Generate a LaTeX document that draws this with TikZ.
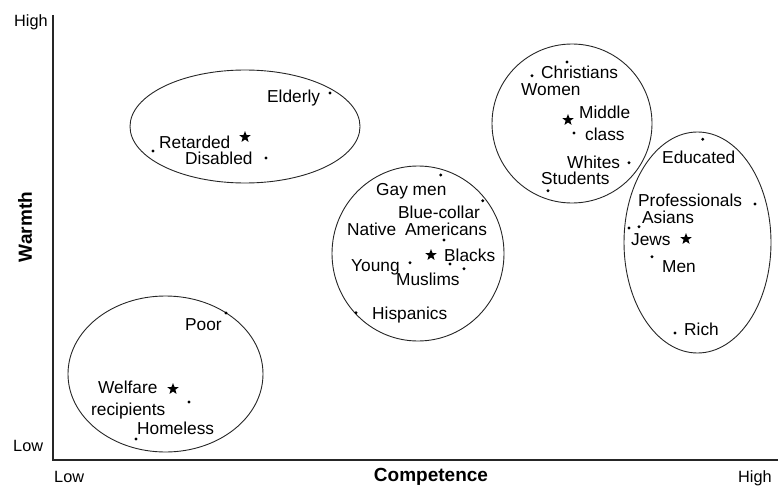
\documentclass[tikz,border=0pt]{standalone}
\usepackage{fontspec}
\setmainfont{Liberation Sans}
\usetikzlibrary{shapes.geometric}
\begin{document}
\begin{tikzpicture}[x=1pt,y=-1pt,
  lbl/.style={anchor=west,inner sep=0pt,text height=12.3pt,text depth=0pt,font=\fontsize{17.3}{19}\selectfont},
  axlbl/.style={inner sep=0pt,text height=11.8pt,text depth=0pt,font=\fontsize{16.3}{18}\selectfont},
  axtitle/.style={inner sep=0pt,font=\fontsize{19}{21}\selectfont\bfseries},
  dot/.style={circle,fill=black,inner sep=0pt,minimum size=3.2pt},
  starmark/.style={star,star points=5,star point ratio=2.4,fill=black,inner sep=0pt,minimum size=12pt},
  cluster/.style={draw=black!85,line width=0.9pt},
  axis/.style={draw=black!85,line width=1.6pt}]
\useasboundingbox (0,0) rectangle (781,487);
% axes
\coordinate (ytop) at (53,15);
\coordinate (orig) at (53,460);
\coordinate (xend) at (778,460);
\draw[axis] (ytop) -- (orig) -- (xend);
\node[axlbl,anchor=west] (yhigh) at (14,21) {High};
\node[axlbl,anchor=west] (ylow) at (13,446) {Low};
\node[axlbl,anchor=west] (xlow) at (54,477) {Low};
\node[axlbl,anchor=west] (xhigh) at (738,477) {High};
\node[axtitle] (xtitle) at (431,477) {Competence};
\node[axtitle,rotate=90] (ytitle) at (25,227) {Warmth};
% clusters
\draw[cluster] (245,126.5) ellipse [x radius=115, y radius=56.5];
\draw[cluster] (165.5,374) ellipse [x radius=97.5, y radius=78];
\draw[cluster] (418,253.5) ellipse [x radius=86, y radius=87.5];
\draw[cluster] (572,123.5) ellipse [x radius=80, y radius=79.5];
\draw[cluster] (697.5,242.5) ellipse [x radius=73.5, y radius=110.5];
% cluster 1
\node[dot] (d1) at (330,93) {};
\node[starmark] (s1) at (245,137) {};
\node[dot] (d2) at (153,151) {};
\node[dot] (d3) at (266,158) {};
\node[lbl] (elderly) at (267,96) {Elderly};
\node[lbl] (retarded) at (159,142) {Retarded};
\node[lbl] (disabled) at (185,158) {Disabled};
% cluster 2
\node[dot] (d4) at (226,313) {};
\node[starmark] (s2) at (173,389) {};
\node[dot] (d5) at (189,402) {};
\node[dot] (d6) at (136,439) {};
\node[lbl] (poor) at (185,324) {Poor};
\node[lbl] (welfare) at (98,387) {Welfare};
\node[lbl] (recip) at (91,409) {recipients};
\node[lbl] (homeless) at (137,428) {Homeless};
% cluster 3
\node[dot] (d7) at (440.7,175) {};
\node[dot] (d8) at (482.7,200.7) {};
\node[dot] (d9) at (444,240) {};
\node[starmark] (s3) at (431,255) {};
\node[dot] (d10) at (410,262.7) {};
\node[dot] (d11) at (450,264) {};
\node[dot] (d12) at (464,268.7) {};
\node[dot] (d13) at (356,312.7) {};
\node[lbl] (gay) at (376,189) {Gay men};
\node[lbl] (blue) at (398,212) {Blue-collar};
\node[lbl] (native) at (347,229) {Native};
\node[lbl] (amer) at (405,229) {Americans};
\node[lbl] (blacks) at (444,255) {Blacks};
\node[lbl] (young) at (351,265) {Young};
\node[lbl] (muslims) at (396,279) {Muslims};
\node[lbl] (hisp) at (372,313) {Hispanics};
% cluster 4
\node[dot] (d14) at (567,62) {};
\node[dot] (d15) at (532,75.7) {};
\node[starmark] (s4) at (568,120) {};
\node[dot] (d16) at (574,133) {};
\node[dot] (d17) at (629,162.7) {};
\node[dot] (d18) at (548,190.7) {};
\node[lbl] (christ) at (541,72) {Christians};
\node[lbl] (women) at (521,89) {Women};
\node[lbl] (middle) at (579,112) {Middle};
\node[lbl] (class) at (585,134) {class};
\node[lbl] (whites) at (567,162) {Whites};
\node[lbl] (students) at (541,178) {Students};
% cluster 5
\node[dot] (d19) at (702.7,139.3) {};
\node[dot] (d20) at (755,204) {};
\node[dot] (d21) at (629,228) {};
\node[dot] (d22) at (639,226.7) {};
\node[starmark] (s5) at (686,239) {};
\node[dot] (d23) at (652,256.7) {};
\node[dot] (d24) at (675,333) {};
\node[lbl] (educ) at (662,157) {Educated};
\node[lbl] (prof) at (638,200) {Professionals};
\node[lbl] (asians) at (642,217) {Asians};
\node[lbl] (jews) at (631,239) {Jews};
\node[lbl] (men) at (662,266) {Men};
\node[lbl] (rich) at (684,329) {Rich};
\end{tikzpicture}
\end{document}
